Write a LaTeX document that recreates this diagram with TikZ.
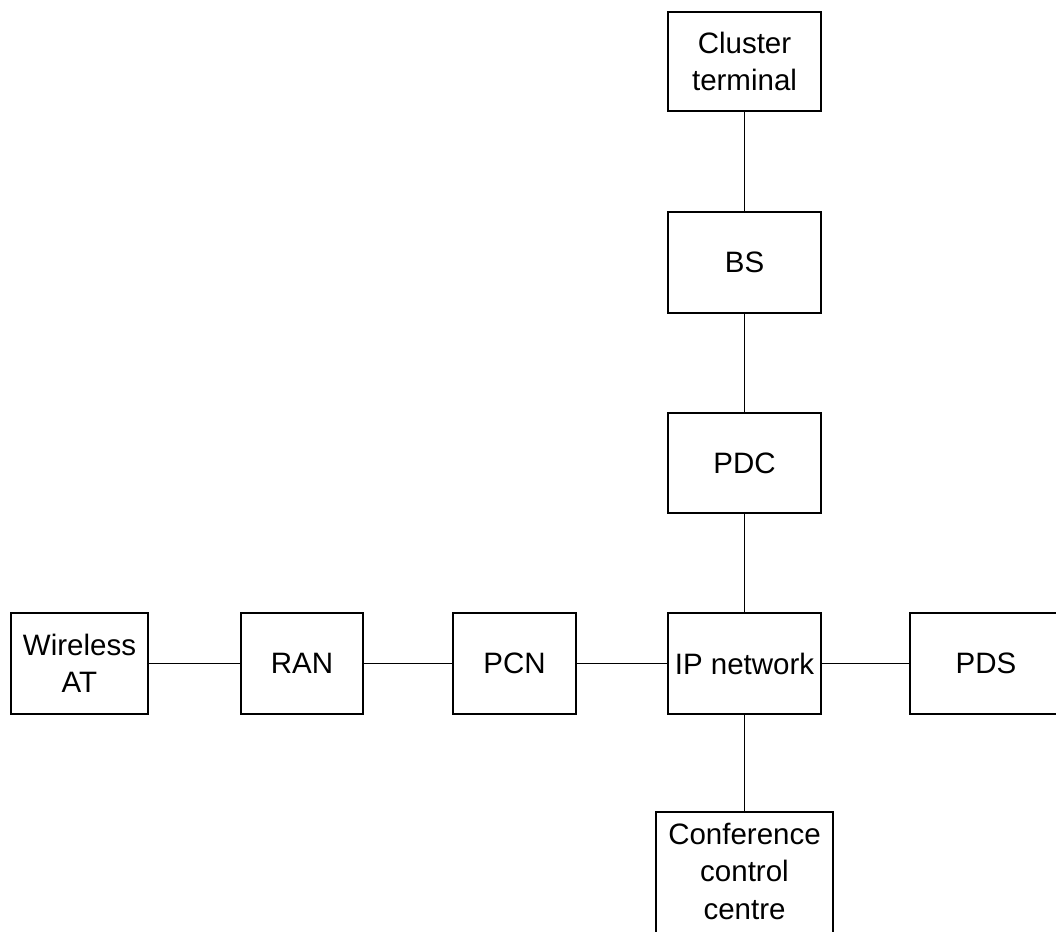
\documentclass[tikz,border=0pt]{standalone}
\usepackage{fontspec}
\setmainfont{Liberation Sans}
\begin{document}
\begin{tikzpicture}[x=1pt,y=-1pt,
  box/.style={draw,line width=2pt,inner sep=0pt,align=center,
    font=\fontsize{29.5pt}{37.5pt}\selectfont},
  conn/.style={line width=1.8pt}]
\useasboundingbox (0,0) rectangle (1056,931);
\clip (0,0) rectangle (1056,931);
\node[box,minimum width=153,minimum height=99] (clu) at (744.5,61.5) {Cluster\\terminal};
\node[box,minimum width=153,minimum height=101] (bs) at (744.5,262.5) {BS};
\node[box,minimum width=153,minimum height=100] (pdc) at (744.5,463) {PDC};
\node[box,minimum width=153,minimum height=101] (ip) at (744.5,663.5) {IP network};
\node[box,minimum width=152,minimum height=101] (pds) at (986,663.5) {PDS};
\node[box,minimum width=123,minimum height=101] (pcn) at (514.5,663.5) {PCN};
\node[box,minimum width=122,minimum height=101] (ran) at (302,663.5) {RAN};
\node[box,minimum width=137,minimum height=101] (wat) at (79.5,663.5) {Wireless\\AT};
\node[box,draw=none,minimum width=175,minimum height=116] (ccc) at (744.5,871) {Conference\\control\\centre};
\draw[line width=2pt] ([yshift=-20pt]ccc.south west) -- (ccc.north west) -- (ccc.north east) -- ([yshift=-20pt]ccc.south east);
\draw[conn] (wat.east) -- (ran.west);
\draw[conn] (ran.east) -- (pcn.west);
\draw[conn] (pcn.east) -- (ip.west);
\draw[conn] (ip.east) -- (pds.west);
\draw[conn] (clu.south) -- (bs.north);
\draw[conn] (bs.south) -- (pdc.north);
\draw[conn] (pdc.south) -- (ip.north);
\draw[conn] (ip.south) -- (ccc.north);
\end{tikzpicture}
\end{document}
